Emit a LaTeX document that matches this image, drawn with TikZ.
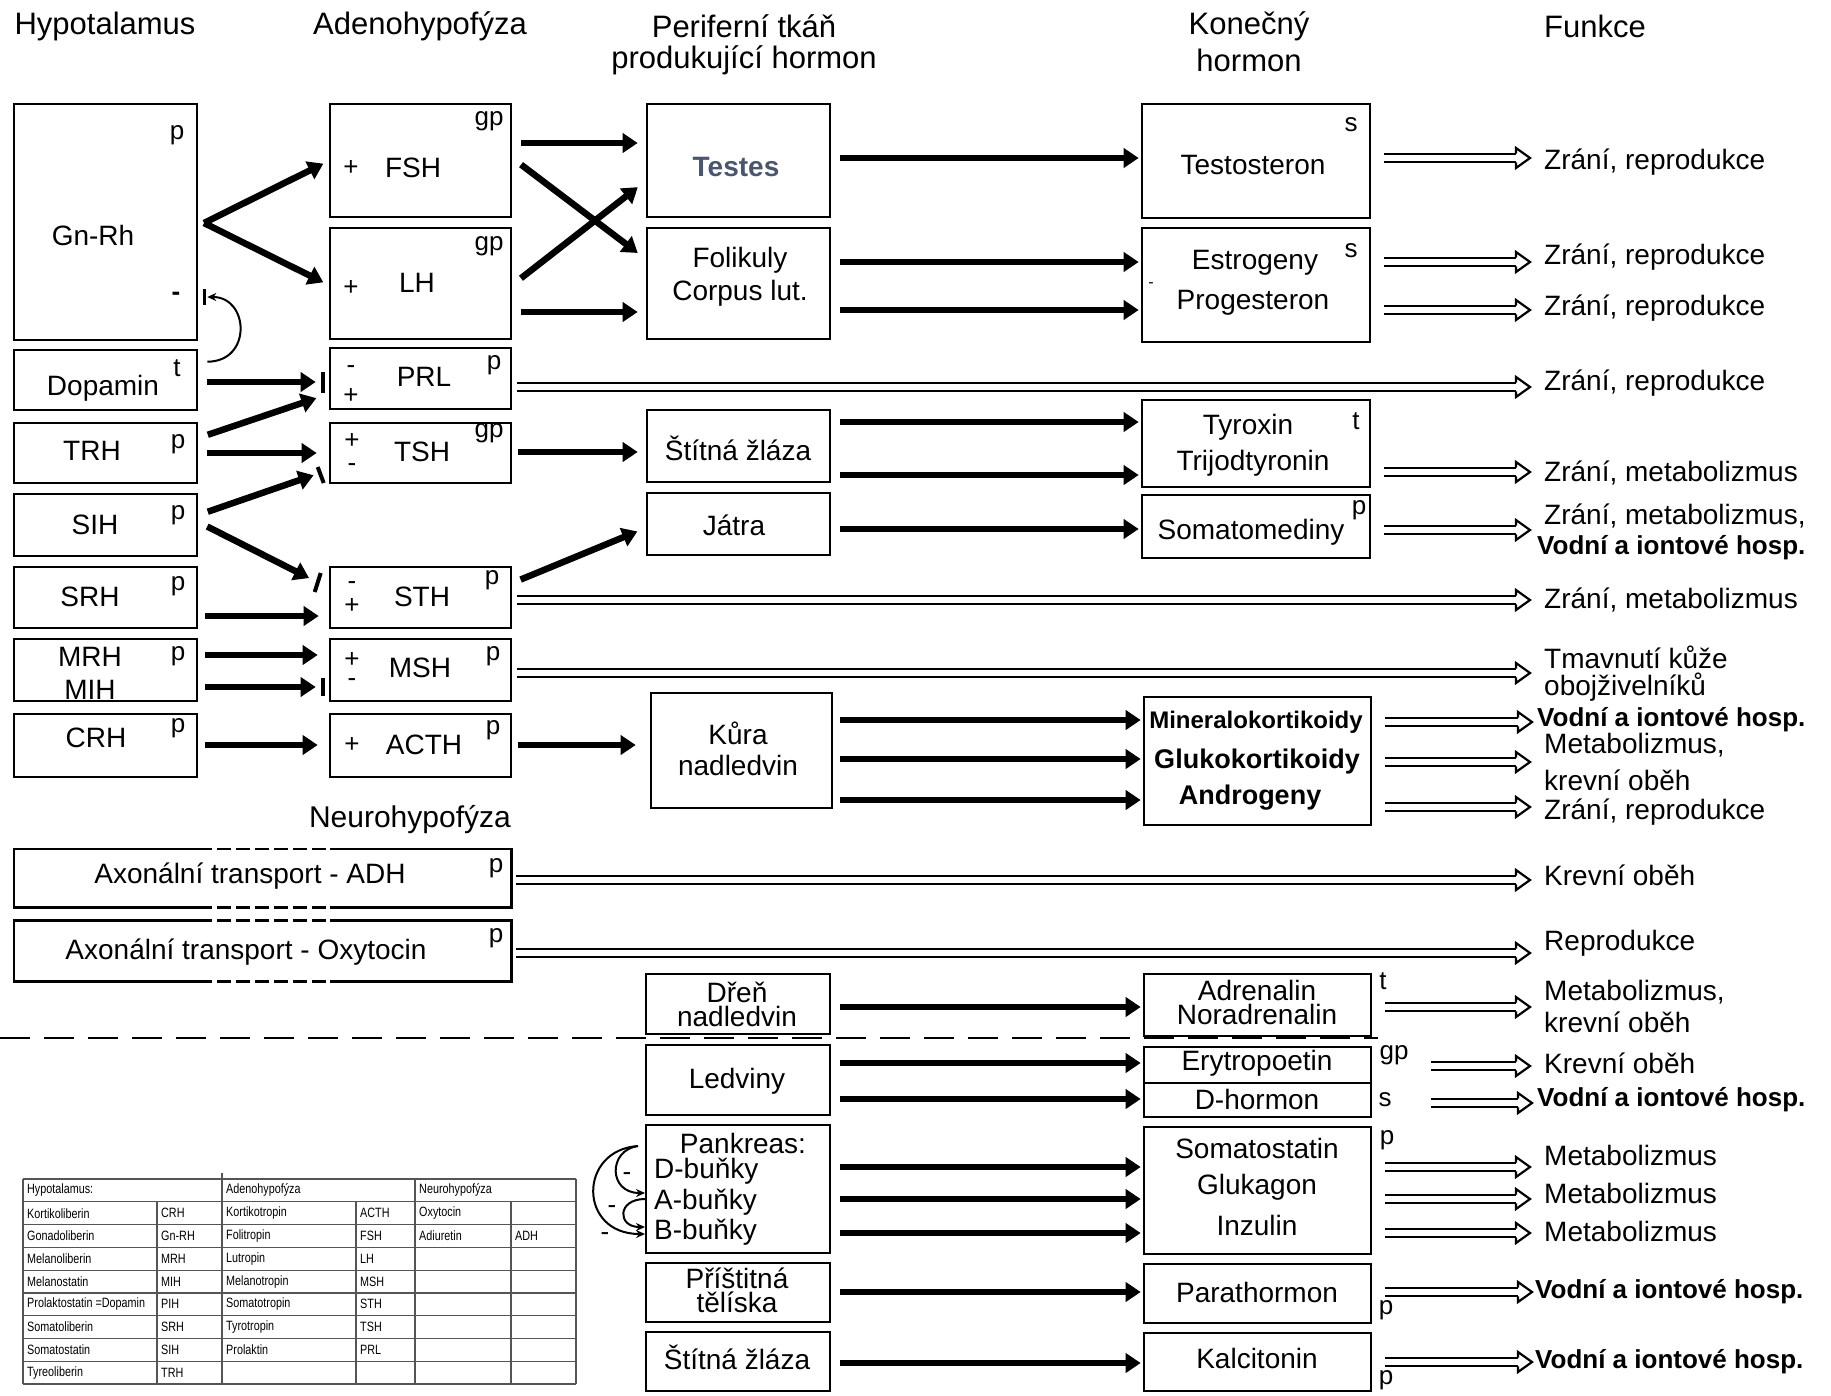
\documentclass[tikz,border=0pt]{standalone}
\usepackage{fontspec}
\setmainfont{Liberation Sans}
\newfontfamily\narrowfont[FakeStretch=0.8]{Liberation Sans}
\usetikzlibrary{arrows.meta,calc}
\definecolor{slate}{HTML}{4A5670}
\definecolor{tabline}{HTML}{555555}
\newcommand\mybox[5]{\node[box, minimum width={#4-#2}, minimum height={#5-#3}] (#1) at ({(#2+#4)/2},{(#3+#5)/2}) {};}
\newcommand\darr[4]{%
  \coordinate (ds) at ($#1+(#3,0)$);
  \coordinate (de) at ($#2+(-#4,0)$);
  \draw[double distance=6.5pt, line width=2.2pt] (ds) -- ($(de)+(-14,0)$);
  \fill[white] ($(de)+(-14,-10)$) -- (de) -- ($(de)+(-14,10)$) -- cycle;
  \draw[line width=2.2pt, line join=miter] ($(de)+(-14,-4.35)$) -- ($(de)+(-14,-10)$) -- (de) -- ($(de)+(-14,10)$) -- ($(de)+(-14,4.35)$);
}
\begin{document}
\begin{tikzpicture}[x=1pt,y=-1pt,
  box/.style={draw, line width=2.6pt, inner sep=0pt},
  txt/.style={inner sep=0pt, font=\fontsize{28}{32}\selectfont},
  txb/.style={inner sep=0pt, font=\bfseries\fontsize{27}{32}\selectfont},
  hdr/.style={inner sep=0pt, font=\fontsize{31}{36}\selectfont},
  sm/.style={inner sep=0pt, font=\fontsize{26}{30}\selectfont},
  fn/.style={inner sep=0pt, anchor=west, font=\fontsize{28}{32}\selectfont},
  fnb/.style={inner sep=0pt, anchor=west, font=\bfseries\fontsize{26}{30}\selectfont},
  thk/.style={line width=6.5pt, -{Triangle[length=15pt,width=19pt]}},
  tR/.style={thk, shorten <=9pt, shorten >=2pt},
  ibar/.style={line width=4pt},
  fbk/.style={line width=2pt, -{Stealth[length=9pt,width=8pt]}},
  tabt/.style={inner sep=0pt, anchor=west, font=\narrowfont\fontsize{13.5}{15}\selectfont},
  tline/.style={line width=1.2pt, draw=tabline},
]
\useasboundingbox[fill=white] (0,0) rectangle (1831,1395);

% headers
\node[hdr] (h1) at (105,26) {Hypotalamus};
\node[hdr] (h2) at (420,26) {Adenohypofýza};
\node[hdr] (h3) at (744,26) {Periferní tkáň};
\node[hdr] (h3b) at (744,60) {produkující hormon};
\node[hdr] (h4) at (1249,26) {Konečný};
\node[hdr] (h4b) at (1249,60) {hormon};
\node[hdr] (h5) at (1595,26) {Funkce};

% column 1 boxes
\mybox{gnrh}{14}{104}{197}{340}
\mybox{dop}{14}{350}{197}{410}
\mybox{trh}{14}{423}{197}{483}
\mybox{sih}{14}{494}{197}{556}
\mybox{srh}{14}{567}{197}{628}
\mybox{mrh}{14}{639}{197}{701}
\mybox{crh}{14}{714}{197}{777}
% column 2 boxes
\mybox{fsh}{330}{104}{511}{217}
\mybox{lh}{330}{228}{511}{339}
\mybox{prl}{330}{348}{511}{409}
\mybox{tsh}{330}{423}{511}{483}
\mybox{sth}{330}{567}{511}{628}
\mybox{msh}{330}{639}{511}{701}
\mybox{acth}{330}{714}{511}{777}
% column 3 boxes
\mybox{testes}{647}{104}{830}{217}
\mybox{fol}{647}{228}{830}{339}
\mybox{stit}{647}{410}{830}{482}
\mybox{jatra}{647}{493}{830}{555}
\mybox{kura}{651}{693}{832}{808}
\mybox{dren}{646}{974}{830}{1034}
\mybox{led}{646}{1045}{830}{1115}
\mybox{pank}{646}{1125}{830}{1253}
\mybox{pris}{646}{1263}{830}{1322}
\mybox{stitb}{646}{1332}{830}{1391}
% column 4 boxes
\mybox{testo}{1142}{104}{1370}{218}
\mybox{estro}{1142}{228}{1370}{342}
\mybox{tyr}{1142}{400}{1370}{487}
\mybox{somed}{1142}{495}{1370}{558}
\mybox{miner}{1144}{697}{1371}{825}
\mybox{adren}{1144}{974}{1371}{1036}
\mybox{ery}{1144}{1047}{1371}{1117}
\mybox{soma}{1144}{1127}{1371}{1254}
\mybox{parat}{1144}{1264}{1371}{1323}
\mybox{kalc}{1144}{1333}{1371}{1391}
\draw[line width=2pt] (ery.west |- 0,1083) -- (ery.east |- 0,1083);

% column 1 texts
\node[txt] (gnrh-t) at (93,235) {Gn-Rh};
\node[sm] (gnrh-p) at (177,135) {p};
\node[sm, font=\bfseries\fontsize{26}{30}\selectfont] (gnrh-m) at (176,296) {-};
\node[txt] (dop-t) at (103,388) {Dopamin};
\node[sm] (dop-p) at (177,368) {t};
\node[txt] (trh-t) at (92,451) {TRH};
\node[sm] (trh-p) at (178,444) {p};
\node[txt] (sih-t) at (95,525) {SIH};
\node[sm] (sih-p) at (178,515) {p};
\node[txt] (srh-t) at (90,597) {SRH};
\node[sm] (srh-p) at (178,586) {p};
\node[txt] (mrh-t) at (90,657) {MRH};
\node[txt] (mih-t) at (90,690) {MIH};
\node[sm] (mrh-p) at (178,656) {p};
\node[txt] (crh-t) at (96,738) {CRH};
\node[sm] (crh-p) at (178,728) {p};

% column 2 texts
\node[sm] (fsh-s) at (351,168) {+};
\node[txt] (fsh-t) at (413,168) {FSH};
\node[sm] (fsh-p) at (489,121) {gp};
\node[sm] (lh-s) at (351,288) {+};
\node[txt] (lh-t) at (417,283) {LH};
\node[sm] (lh-p) at (489,246) {gp};
\node[sm] (prl-m) at (351,370) {-};
\node[sm] (prl-s) at (351,396) {+};
\node[txt] (prl-t) at (424,377) {PRL};
\node[sm] (prl-p) at (494,365) {p};
\node[sm] (tsh-s) at (352,441) {+};
\node[sm] (tsh-m) at (352,468) {-};
\node[txt] (tsh-t) at (422,452) {TSH};
\node[sm] (tsh-p) at (489,433) {gp};
\node[sm] (sth-m) at (352,586) {-};
\node[sm] (sth-s) at (352,606) {+};
\node[txt] (sth-t) at (422,597) {STH};
\node[sm] (sth-p) at (492,580) {p};
\node[sm] (msh-s) at (352,660) {+};
\node[sm] (msh-m) at (352,683) {-};
\node[txt] (msh-t) at (420,668) {MSH};
\node[sm] (msh-p) at (493,656) {p};
\node[sm] (acth-s) at (352,745) {+};
\node[txt] (acth-t) at (424,745) {ACTH};
\node[sm] (acth-p) at (493,730) {p};

% neurohypofyza
\node[hdr, font=\fontsize{30}{34}\selectfont, anchor=east] (neuro) at (511,820) {Neurohypofýza};
\node[inner sep=0pt, minimum width=497, minimum height=58] (adh) at (262.5,878) {};
\node[inner sep=0pt, minimum width=497, minimum height=61] (oxy) at (262.5,951) {};
\foreach \b in {adh,oxy}{
  \draw[box] (\b.north -| 198,0) -- (\b.north west) -- (\b.south west) -- (\b.south -| 198,0);
  \draw[box] (\b.south -| 330,0) -- (\b.south east) -- (\b.north east) -- (\b.north -| 330,0);
  \draw[box, dash pattern=on 14pt off 5pt] (\b.north -| 198,0) -- (\b.north -| 330,0);
  \draw[box, dash pattern=on 14pt off 5pt] (\b.south -| 198,0) -- (\b.south -| 330,0);
}
\node[txt] (adh-t) at (250,876) {Axonální transport - ADH};
\node[sm] (adh-p) at (496,868) {p};
\node[txt] (oxy-t) at (246,952) {Axonální transport - Oxytocin};
\node[sm] (oxy-p) at (496,938) {p};

% column 3 texts
\node[inner sep=0pt, font=\bfseries\fontsize{28}{32}\selectfont, text=slate] (testes-t) at (736,167) {Testes};
\node[txt] (fol-t) at (740,260) {Folikuly};
\node[txt] (fol-t2) at (740,293) {Corpus lut.};
\node[txt] (stit-t) at (738,448) {Štítná žláza};
\node[txt] (jatra-t) at (734,525) {Játra};
\node[txt] (kura-t) at (738,733) {Kůra};
\node[txt] (kura-t2) at (738,765) {nadledvin};
\node[txt] (dren-t) at (737,992) {Dřeň};
\node[txt] (dren-t2) at (737,1016) {nadledvin};
\node[txt] (led-t) at (737,1081) {Ledviny};
\node[txt] (pank-t) at (743,1143) {Pankreas:};
\node[txt, anchor=west] (pank-d) at (654,1171) {D-buňky};
\node[txt, anchor=west] (pank-a) at (654,1202) {A-buňky};
\node[txt, anchor=west] (pank-b) at (654,1232) {B-buňky};
\node[txt] (pris-t) at (737,1278) {Příštitná};
\node[txt] (pris-t2) at (737,1302) {tělíska};
\node[txt] (stitb-t) at (737,1357) {Štítná žláza};

% column 4 texts
\node[txt] (testo-t) at (1253,165) {Testosteron};
\node[sm] (testo-p) at (1351,125) {s};
\node[txt] (estro-t) at (1255,263) {Estrogeny};
\node[txt] (estro-t2) at (1253,303) {Progesteron};
\node[sm] (estro-p) at (1351,251) {s};
\node[inner sep=0pt, font=\fontsize{16}{18}\selectfont] (estro-m) at (1151,285) {-};
\node[txt] (tyr-t) at (1248,427) {Tyroxin};
\node[txt] (tyr-t2) at (1253,463) {Trijodtyronin};
\node[sm] (tyr-p) at (1356,421) {t};
\node[txt] (somed-t) at (1251,532) {Somatomediny};
\node[sm] (somed-p) at (1359,510) {p};
\node[inner sep=0pt, font=\bfseries\fontsize{24}{28}\selectfont] (miner-t) at (1256,722) {Mineralokortikoidy};
\node[txb] (miner-t2) at (1257,762) {Glukokortikoidy};
\node[txb] (miner-t3) at (1250,798) {Androgeny};
\node[txt] (adren-t) at (1257,990) {Adrenalin};
\node[txt] (adren-t2) at (1257,1014) {Noradrenalin};
\node[sm] (adren-p) at (1383,981) {t};
\node[txt] (ery-t) at (1257,1063) {Erytropoetin};
\node[txt] (ery-t2) at (1257,1099) {D-hormon};
\node[sm] (ery-p) at (1394,1055) {gp};
\node[sm] (ery-p2) at (1385,1100) {s};
\node[txt] (soma-t) at (1257,1148) {Somatostatin};
\node[txt] (soma-t2) at (1257,1187) {Glukagon};
\node[txt] (soma-t3) at (1257,1225) {Inzulin};
\node[sm] (soma-p) at (1387,1140) {p};
\node[txt] (parat-t) at (1257,1292) {Parathormon};
\node[sm] (parat-p) at (1386,1310) {p};
\node[txt] (kalc-t) at (1257,1358) {Kalcitonin};
\node[sm] (kalc-p) at (1386,1380) {p};

% function texts
\node[fn] (f1) at (1544,162) {Zrání, reprodukce};
\node[fn] (f2) at (1544,257) {Zrání, reprodukce};
\node[fn] (f3) at (1544,308) {Zrání, reprodukce};
\node[fn] (f4) at (1544,383) {Zrání, reprodukce};
\node[fn] (f5) at (1544,473) {Zrání, metabolizmus};
\node[fn] (f6) at (1544,516) {Zrání, metabolizmus,};
\node[fnb] (f6b) at (1537,548) {Vodní a iontové hosp.};
\node[fn] (f7) at (1544,600) {Zrání, metabolizmus};
\node[fn] (f8) at (1544,657) {Tmavnutí kůže};
\node[fn] (f8b) at (1544,687) {obojživelníků};
\node[fnb] (f9) at (1537,720) {Vodní a iontové hosp.};
\node[fn] (f10) at (1544,745) {Metabolizmus,};
\node[fn] (f10b) at (1544,780) {krevní oběh};
\node[fn] (f11) at (1544,812) {Zrání, reprodukce};
\node[fn] (f12) at (1544,875) {Krevní oběh};
\node[fn] (f13) at (1544,943) {Reprodukce};
\node[fn] (f14) at (1544,992) {Metabolizmus,};
\node[fn] (f14b) at (1544,1022) {krevní oběh};
\node[fn] (f15) at (1544,1063) {Krevní oběh};
\node[fnb] (f16) at (1537,1100) {Vodní a iontové hosp.};
\node[fn] (f17) at (1544,1155) {Metabolizmus};
\node[fn] (f18) at (1544,1193) {Metabolizmus};
\node[fn] (f19) at (1544,1231) {Metabolizmus};
\node[fnb] (f20) at (1535,1292) {Vodní a iontové hosp.};
\node[fnb] (f21) at (1535,1362) {Vodní a iontové hosp.};

% hypothalamus -> adenohypophysis
\coordinate (gv) at (204,223);
\draw[line width=6.5pt, -{Triangle[length=15pt,width=19pt]}, shorten >=6pt] (gv) -- (fsh.west |- 0,161);
\draw[line width=6.5pt, -{Triangle[length=15pt,width=19pt]}, shorten >=6pt] (gv) -- (lh.west |- 0,285);
\draw[thk, shorten <=9pt, shorten >=13pt] (dop.east |- 0,382) -- (prl.west |- 0,382);
\draw[ibar] (prl.west |- 0,372) ++(-6,0) -- ++(0,21);
\draw[thk, shorten <=10pt, shorten >=13pt] (trh.east |- 0,438) -- (prl.west |- 0,394);
\draw[thk, shorten <=9pt, shorten >=12pt] (trh.east |- 0,453) -- (tsh.west |- 0,453);
\draw[thk, shorten <=10pt, shorten >=16pt] (sih.east |- 0,515) -- (tsh.west |- 0,470);
\draw[ibar] (tsh.west |- 0,467) ++(-11,0) -- ++(6,16);
\draw[thk, shorten <=10pt, shorten >=22pt] (sih.east |- 0,522) -- (sth.west |- 0,588);
\draw[ibar] (sth.west |- 0,573) ++(-8,0) -- ++(-6,19);
\draw[thk, shorten <=7pt, shorten >=10pt] (srh.east |- 0,616) -- (sth.west |- 0,616);
\draw[thk, shorten <=7pt, shorten >=11pt] (mrh.east |- 0,655) -- (msh.west |- 0,655);
\draw[thk, shorten <=7pt, shorten >=13pt] (mrh.east |- 0,687) -- (msh.west |- 0,687);
\draw[ibar] (msh.west |- 0,678) ++(-6,0) -- ++(0,18);
\draw[thk, shorten <=7pt, shorten >=11pt] (crh.east |- 0,745) -- (acth.west |- 0,745);
% feedback dopamin -> Gn-Rh
\coordinate (fb0) at ($(dop.north east)+(9,13)$);
\coordinate (fb1) at ($(gnrh.east)+(9,75)$);
\draw[fbk] (fb0) .. controls +(45,0) and +(42,0) .. (fb1);
\draw[line width=2.5pt] ($(gnrh.east)+(6,67)$) -- ++(0,16);

% adenohypophysis -> peripheral tissue
\draw[thk, shorten <=9pt, shorten >=8pt] (fsh.east |- 0,143) -- (testes.west |- 0,143);
\draw[thk, shorten <=11pt, shorten >=10pt] (fsh.east |- 0,158) -- (fol.west |- 0,259);
\draw[thk, shorten <=11pt, shorten >=10pt] (lh.east |- 0,285) -- (testes.west |- 0,181);
\draw[thk, shorten <=9pt, shorten >=8pt] (lh.east |- 0,312) -- (fol.west |- 0,312);
\draw[thk, shorten <=6pt, shorten >=8pt] (tsh.east |- 0,452) -- (stit.west |- 0,452);
\draw[thk, shorten <=9pt, shorten >=9pt] (sth.east |- 0,583) -- (jatra.west |- 0,528);
\draw[thk, shorten <=6pt, shorten >=14pt] (acth.east |- 0,745) -- (kura.west |- 0,745);

% peripheral tissue -> final hormone
\draw[tR] (testes.east |- 0,158) -- (testo.west |- 0,158);
\draw[tR] (fol.east |- 0,262) -- (estro.west |- 0,262);
\draw[tR] (fol.east |- 0,310) -- (estro.west |- 0,310);
\draw[tR] (stit.east |- 0,422) -- (tyr.west |- 0,422);
\draw[tR] (stit.east |- 0,475) -- (tyr.west |- 0,475);
\draw[tR] (jatra.east |- 0,529) -- (somed.west |- 0,529);
\draw[tR, shorten <=7pt] (kura.east |- 0,720) -- (miner.west |- 0,720);
\draw[tR, shorten <=7pt] (kura.east |- 0,759) -- (miner.west |- 0,759);
\draw[tR, shorten <=7pt] (kura.east |- 0,800) -- (miner.west |- 0,800);
\draw[tR] (dren.east |- 0,1007) -- (adren.west |- 0,1007);
\draw[tR] (led.east |- 0,1063) -- (ery.west |- 0,1063);
\draw[tR] (led.east |- 0,1099) -- (ery.west |- 0,1099);
\draw[tR] (pank.east |- 0,1167) -- (soma.west |- 0,1167);
\draw[tR] (pank.east |- 0,1199) -- (soma.west |- 0,1199);
\draw[tR] (pank.east |- 0,1233) -- (soma.west |- 0,1233);
\draw[tR] (pris.east |- 0,1292) -- (parat.west |- 0,1292);
\draw[tR] (stitb.east |- 0,1363) -- (kalc.west |- 0,1363);

% pancreas feedback
\coordinate (pk0) at (638,1146);
\coordinate (pkA) at (645,1193);
\coordinate (pkB) at (645,1234);
\coordinate (pkA2) at (645,1199);
\coordinate (pkB2) at (645,1227);
\draw[fbk] (pk0) .. controls (608,1150) and (608,1193) .. (pkA);
\draw[fbk] (pk0) .. controls (578,1150) and (578,1234) .. (pkB);
\draw[fbk] (pkA2) .. controls (617,1199) and (617,1227) .. (pkB2);
\node[sm] (pk-m1) at (627,1177) {-};
\node[sm] (pk-m2) at (612,1210) {-};
\node[sm] (pk-m3) at (605,1237) {-};

% final hormone -> function (double arrows)
\darr{(testo.east |- 0,158)}{(f1.west |- 0,158)}{13}{14}
\darr{(estro.east |- 0,262)}{(f2.west |- 0,262)}{13}{14}
\darr{(estro.east |- 0,310)}{(f3.west |- 0,310)}{13}{14}
\darr{(prl.east |- 0,387)}{(f4.west |- 0,387)}{5}{14}
\darr{(tyr.east |- 0,472)}{(f5.west |- 0,472)}{13}{14}
\darr{(somed.east |- 0,530)}{(f6.west |- 0,530)}{13}{14}
\darr{(sth.east |- 0,600)}{(f7.west |- 0,600)}{5}{14}
\darr{(msh.east |- 0,673)}{(f8.west |- 0,673)}{5}{14}
\darr{(miner.east |- 0,722)}{(f9.west |- 0,722)}{13}{5}
\darr{(miner.east |- 0,762)}{(f10.west |- 0,762)}{13}{14}
\darr{(miner.east |- 0,807)}{(f11.west |- 0,807)}{13}{14}
\darr{(adh.east |- 0,880)}{(f12.west |- 0,880)}{5}{14}
\darr{(oxy.east |- 0,953)}{(f13.west |- 0,953)}{5}{14}
\darr{(adren.east |- 0,1007)}{(f14.west |- 0,1007)}{13}{14}
\darr{(ery.east |- 0,1066)}{(f15.west |- 0,1066)}{59}{14}
\darr{(ery.east |- 0,1103)}{(f16.west |- 0,1103)}{59}{5}
\darr{(soma.east |- 0,1167)}{(f17.west |- 0,1167)}{13}{14}
\darr{(soma.east |- 0,1199)}{(f18.west |- 0,1199)}{13}{14}
\darr{(soma.east |- 0,1233)}{(f19.west |- 0,1233)}{13}{14}
\darr{(parat.east |- 0,1292)}{(f20.west |- 0,1292)}{13}{3}
\darr{(kalc.east |- 0,1362)}{(f21.west |- 0,1362)}{13}{3}

% dashed separator
\draw[line width=2.4pt, dash pattern=on 30pt off 14pt] (0,1038) -- (1378,1038);

% table
\foreach \k in {0,...,9}{\draw[tline] (23,{1179+22.78*\k}) -- (576,{1179+22.78*\k});}
\draw[tline] (23,1179) -- (23,1384);
\draw[tline] (157,1201.8) -- (157,1384);
\draw[tline] (222,1173) -- (222,1384);
\draw[tline] (356,1201.8) -- (356,1384);
\draw[tline] (415,1179) -- (415,1384);
\draw[tline] (511,1201.8) -- (511,1384);
\draw[tline] (576,1179) -- (576,1384);
\node[tabt] (th1) at (27,1190.4) {Hypotalamus:};
\node[tabt] (th2) at (226,1190.4) {Adenohypofýza};
\node[tabt] (th3) at (419,1190.4) {Neurohypofýza};
\foreach \a/\b/\c/\d [count=\i] in {Kortikoliberin/CRH/Kortikotropin/ACTH,Gonadoliberin/Gn-RH/Folitropin/FSH,Melanoliberin/MRH/Lutropin/LH,Melanostatin/MIH/Melanotropin/MSH,Prolaktostatin =Dopamin/PIH/Somatotropin/STH,Somatoliberin/SRH/Tyrotropin/TSH,Somatostatin/SIH/Prolaktin/PRL,Tyreoliberin/TRH/{}/{}}{
  \pgfmathsetmacro\ty{1179+22.78*\i+11.39}
  \node[tabt] (ta\i) at (27,\ty) {\a};
  \node[tabt] (tb\i) at (161,\ty) {\b};
  \node[tabt] (tc\i) at (226,\ty) {\c};
  \node[tabt] (td\i) at (360,\ty) {\d};
}
\node[tabt] (te1) at (419,{1179+22.78+11.39}) {Oxytocin};
\node[tabt] (te2) at (419,{1179+2*22.78+11.39}) {Adiuretin};
\node[tabt] (tf2) at (515,{1179+2*22.78+11.39}) {ADH};
\end{tikzpicture}
\end{document}
